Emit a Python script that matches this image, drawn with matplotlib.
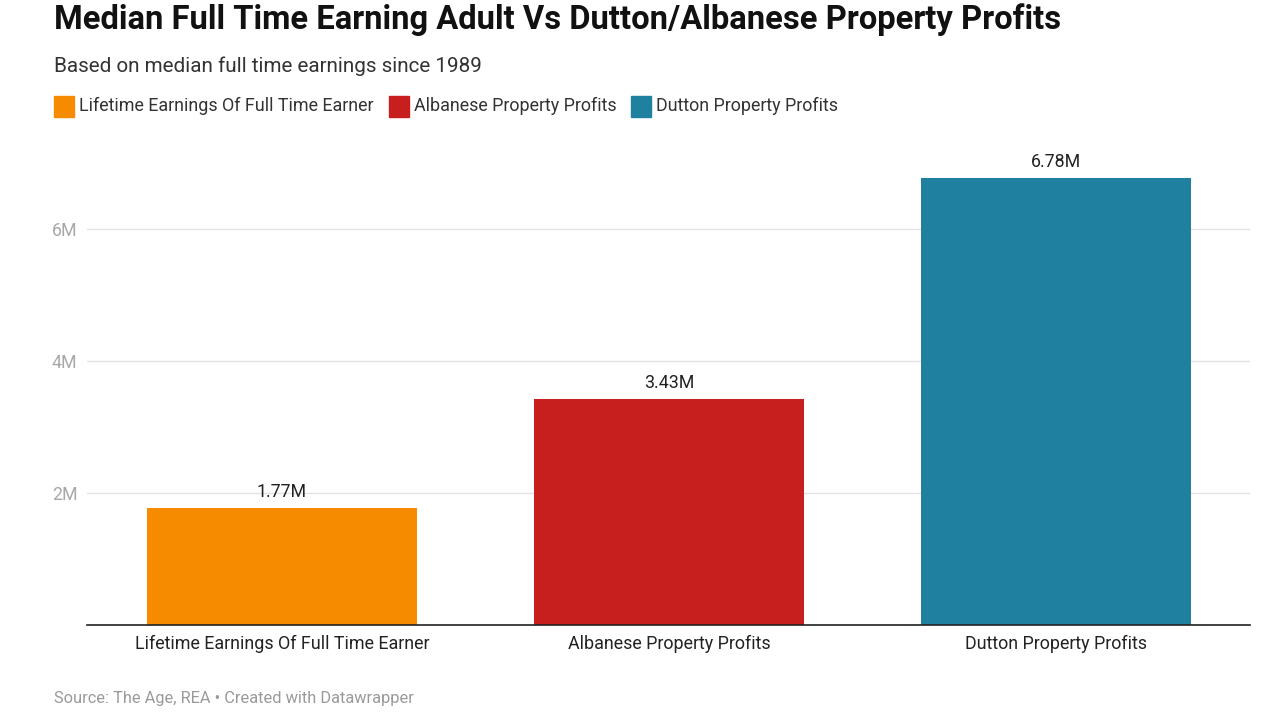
import matplotlib
matplotlib.use("Agg")
import matplotlib.pyplot as plt
from matplotlib.patches import Rectangle

categories = ["Lifetime Earnings Of Full Time Earner", "Albanese Property Profits", "Dutton Property Profits"]
values = [1.77, 3.43, 6.78]  # millions
value_labels = ["1.77M", "3.43M", "6.78M"]
colors = ["#F68B00", "#C71E1E", "#1F80A0"]
yticks = [2, 4, 6]
ytick_labels = ["2M", "4M", "6M"]

plt.rcParams['font.family'] = ['Roboto', 'DejaVu Sans']

W, H = 1280, 719
fig = plt.figure(figsize=(W / 100, H / 100), dpi=100)
fig.patch.set_facecolor("white")

ax_left, ax_right = 87 / W, 1250 / W
ax_bottom = 1 - 625 / H
ax_top = 1 - 163 / H
ax = fig.add_axes([ax_left, ax_bottom, ax_right - ax_left, ax_top - ax_bottom])

x = list(range(len(categories)))
ax.bar(x, values, width=0.698, color=colors, zorder=3)
for xi, v, lab in zip(x, values, value_labels):
    ax.annotate(lab, (xi, v), xytext=(0, 5), textcoords="offset points",
                ha="center", va="bottom", fontsize=12.8, color="#222222")

ax.set_xlim(-0.504, 2.501)
ax.set_ylim(0, 7.0)
ax.set_yticks(yticks)
ax.set_yticklabels(ytick_labels)
ax.set_xticks(x)
ax.set_xticklabels(categories)
ax.tick_params(axis="y", length=0, pad=7, labelsize=12.8, labelcolor="#A8A8A8")
ax.tick_params(axis="x", length=0, pad=7, labelsize=12.9, labelcolor="#222222")
ax.grid(axis="y", color="#E3E3E3", linewidth=1, zorder=0)
for s in ["top", "right", "left"]:
    ax.spines[s].set_visible(False)
ax.spines["bottom"].set_color("#222222")
ax.spines["bottom"].set_linewidth(1.2)
ax.spines["bottom"].set_zorder(4)

# Title and subtitle
fig.text(54 / W, 1 - 20 / H, "Median Full Time Earning Adult Vs Dutton/Albanese Property Profits",
         fontsize=23.6, fontweight="bold", color="#111111", ha="left", va="center")
fig.text(54 / W, 1 - 66 / H, "Based on median full time earnings since 1989",
         fontsize=14.9, color="#333333", ha="left", va="center")

# Legend
lx = 54
ly = 106
for cat, col in zip(categories, colors):
    fig.patches.append(Rectangle((lx / W, 1 - (ly + 11) / H), 20 / W, 21 / H,
                                 transform=fig.transFigure, color=col, figure=fig))
    t = fig.text((lx + 25) / W, 1 - ly / H, cat, fontsize=12.9, color="#333333",
                 ha="left", va="center")
    fig.canvas.draw()
    bb = t.get_window_extent()
    lx = bb.x1 + 15

fig.text(54 / W, 1 - 698 / H, "Source: The Age, REA \u2022 Created with Datawrapper",
         fontsize=11.8, color="#9A9A9A", ha="left", va="center")

fig.savefig("out.png", dpi=100, facecolor="white")
